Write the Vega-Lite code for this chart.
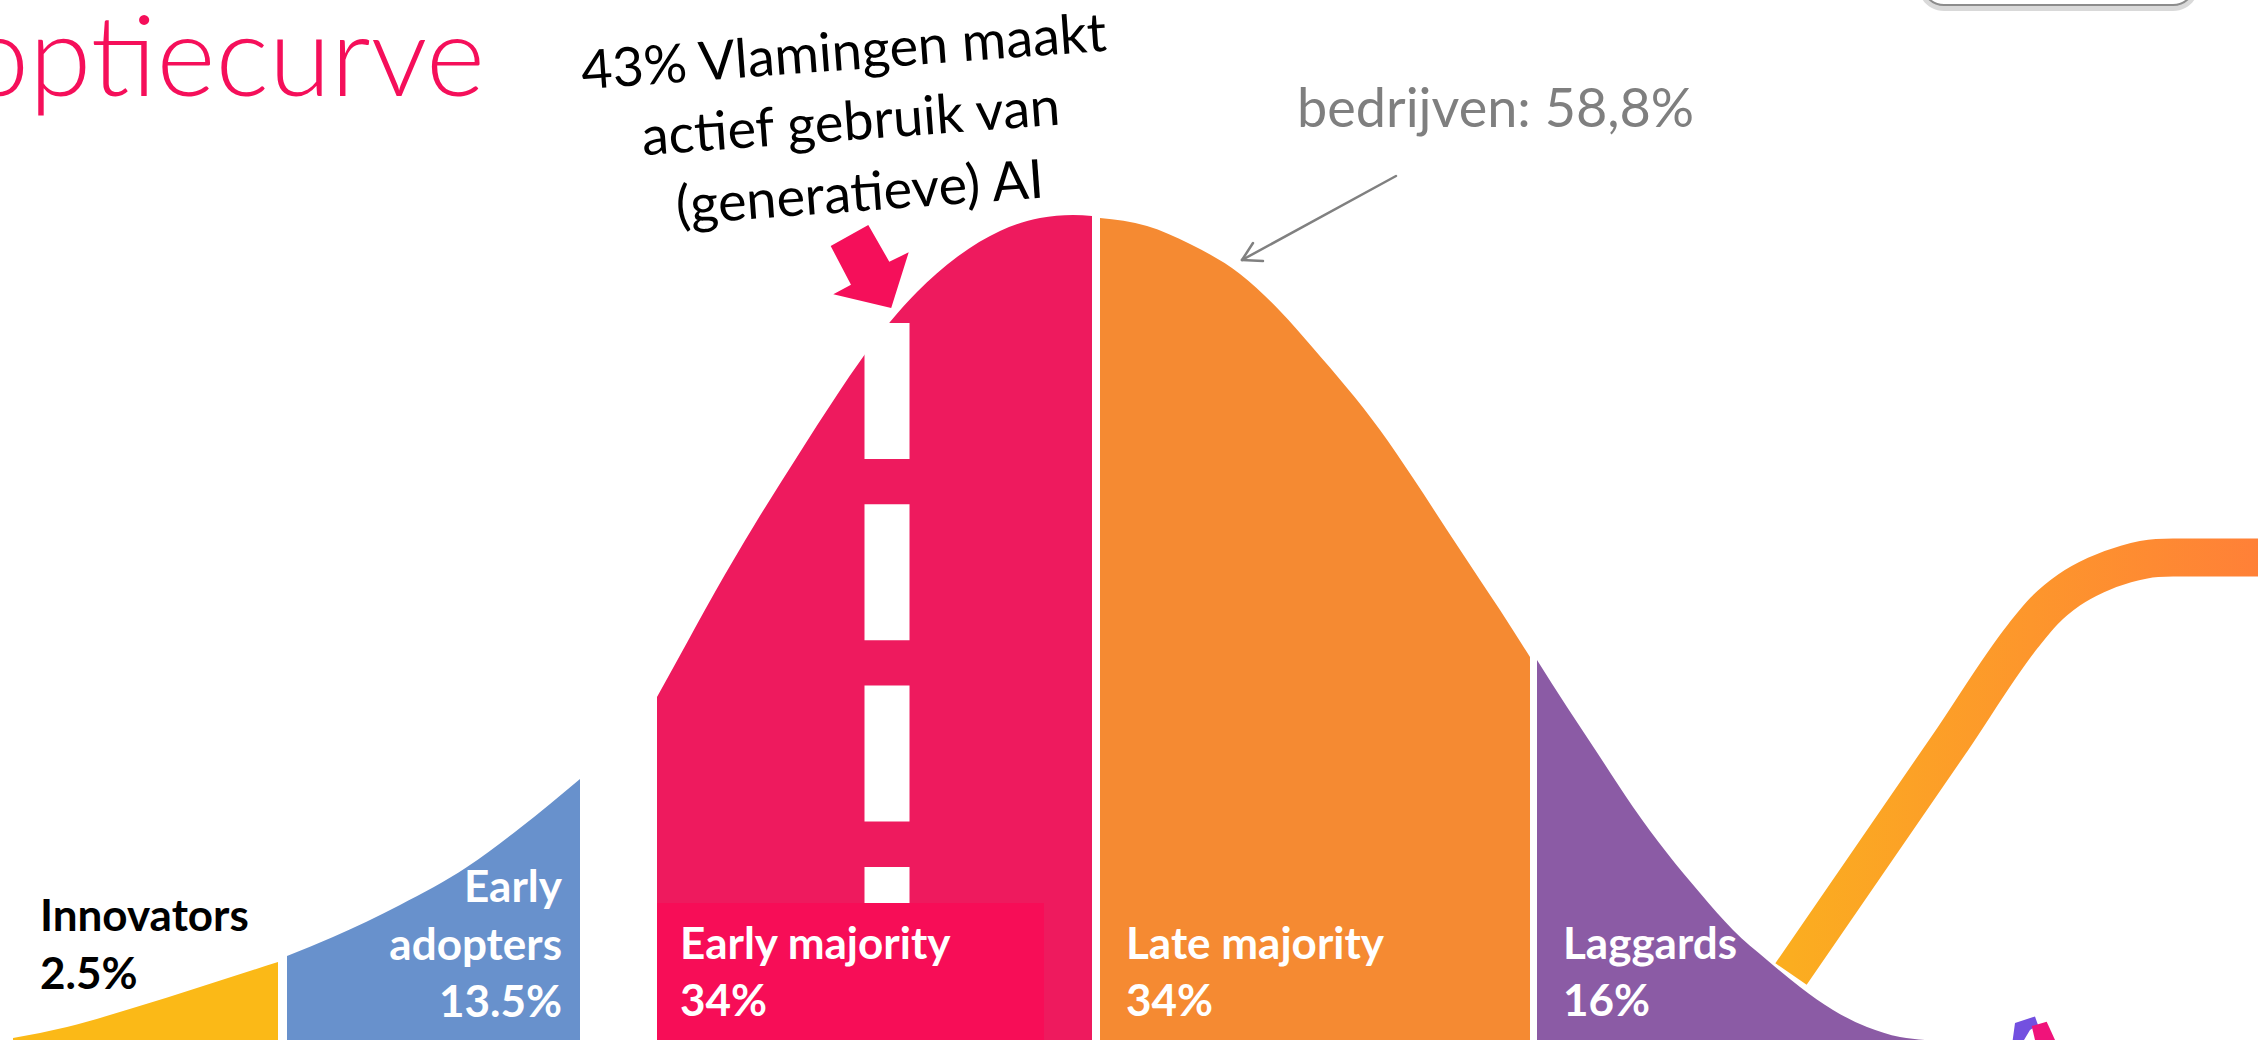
{
  "$schema": "https://vega.github.io/schema/vega-lite/v6.json",
  "width": 2258,
  "height": 1040,
  "autosize": {"type": "none"},
  "padding": 0,
  "background": "white",
  "config": {"view": {"stroke": null}},
  "datasets": {
    "curve": [
      {"segment": "Innovators", "x": 13, "h": 2},
      {"segment": "Innovators", "x": 67, "h": 13},
      {"segment": "Innovators", "x": 133, "h": 32},
      {"segment": "Innovators", "x": 200, "h": 53},
      {"segment": "Innovators", "x": 278, "h": 78},
      {"segment": "Early adopters", "x": 287, "h": 84},
      {"segment": "Early adopters", "x": 333, "h": 103},
      {"segment": "Early adopters", "x": 400, "h": 135},
      {"segment": "Early adopters", "x": 467, "h": 173},
      {"segment": "Early adopters", "x": 520, "h": 212},
      {"segment": "Early adopters", "x": 580, "h": 261},
      {"segment": "Early majority", "x": 657, "h": 343},
      {"segment": "Early majority", "x": 678, "h": 381},
      {"segment": "Early majority", "x": 715, "h": 448},
      {"segment": "Early majority", "x": 755, "h": 516},
      {"segment": "Early majority", "x": 797, "h": 583},
      {"segment": "Early majority", "x": 837, "h": 645},
      {"segment": "Early majority", "x": 863, "h": 683},
      {"segment": "Early majority", "x": 890, "h": 718},
      {"segment": "Early majority", "x": 917, "h": 748},
      {"segment": "Early majority", "x": 957, "h": 783},
      {"segment": "Early majority", "x": 1000, "h": 809},
      {"segment": "Early majority", "x": 1040, "h": 822},
      {"segment": "Early majority", "x": 1073, "h": 825},
      {"segment": "Early majority", "x": 1092, "h": 824},
      {"segment": "Late majority", "x": 1100, "h": 822},
      {"segment": "Late majority", "x": 1147, "h": 814},
      {"segment": "Late majority", "x": 1190, "h": 796},
      {"segment": "Late majority", "x": 1240, "h": 766},
      {"segment": "Late majority", "x": 1280, "h": 729},
      {"segment": "Late majority", "x": 1313, "h": 692},
      {"segment": "Late majority", "x": 1380, "h": 610},
      {"segment": "Late majority", "x": 1413, "h": 562},
      {"segment": "Late majority", "x": 1447, "h": 510},
      {"segment": "Late majority", "x": 1480, "h": 460},
      {"segment": "Late majority", "x": 1500, "h": 430},
      {"segment": "Late majority", "x": 1530, "h": 383},
      {"segment": "Laggards", "x": 1537, "h": 380},
      {"segment": "Laggards", "x": 1567, "h": 333},
      {"segment": "Laggards", "x": 1600, "h": 283},
      {"segment": "Laggards", "x": 1633, "h": 233},
      {"segment": "Laggards", "x": 1667, "h": 187},
      {"segment": "Laggards", "x": 1700, "h": 147},
      {"segment": "Laggards", "x": 1733, "h": 110},
      {"segment": "Laggards", "x": 1767, "h": 80},
      {"segment": "Laggards", "x": 1800, "h": 53},
      {"segment": "Laggards", "x": 1833, "h": 30},
      {"segment": "Laggards", "x": 1867, "h": 13},
      {"segment": "Laggards", "x": 1900, "h": 3},
      {"segment": "Laggards", "x": 1925, "h": 0}
    ],
    "dash": [{"x": 887, "top": 717, "bottom": 0}],
    "box": [{"x": 657, "x2": 1044, "top": 137, "bottom": 0}],
    "sline": [
      {"x": 1791, "h": 66},
      {"x": 1950, "h": 297},
      {"x": 2023, "h": 404},
      {"x": 2044, "h": 429},
      {"x": 2069, "h": 450},
      {"x": 2096, "h": 465},
      {"x": 2126, "h": 476},
      {"x": 2157, "h": 482},
      {"x": 2173, "h": 482.5},
      {"x": 2270, "h": 482.5}
    ],
    "pinkarrow": [{"x": 869.7, "h": 773.5}],
    "grayarrow": [
      {"x": 1396, "h": 864, "x2": 1242, "h2": 780},
      {"x": 1242, "h": 780, "x2": 1253, "h2": 797},
      {"x": 1242, "h": 780, "x2": 1263, "h2": 779}
    ],
    "blackLabels": [
      {"label": "Innovators", "x": 40, "h": 109},
      {"label": "2.5%", "x": 40, "h": 51}
    ],
    "whiteRight": [
      {"label": "Early", "x": 562, "h": 138},
      {"label": "adopters", "x": 562, "h": 80},
      {"label": "13.5%", "x": 562, "h": 23}
    ],
    "whiteLeft": [
      {"label": "Early majority", "x": 680, "h": 81},
      {"label": "34%", "x": 680, "h": 24},
      {"label": "Late majority", "x": 1126, "h": 81},
      {"label": "34%", "x": 1126, "h": 24},
      {"label": "Laggards", "x": 1563, "h": 81},
      {"label": "16%", "x": 1563, "h": 24}
    ],
    "annot": [
      {"label": "43% Vlamingen maakt", "x": 845, "h": 970},
      {"label": "actief gebruik van", "x": 852, "h": 900},
      {"label": "(generatieve) AI", "x": 861, "h": 829}
    ],
    "grayText": [{"label": "bedrijven: 58,8%", "x": 1297, "h": 913}],
    "title": [{"label": "Adoptiecurve", "x": 485, "h": 944}],
    "button": [{"x": 1922, "x2": 2195, "top": 1120, "bottom": 1035}],
    "buttonShadow": [{"x": 1918, "x2": 2199, "top": 1120, "bottom": 1029}],
    "logoA": [{"x": 2025, "h": 10}],
    "logoB": [{"x": 2043, "h": 10}]
  },
  "layer": [
    {
      "data": {"name": "curve"},
      "mark": {"type": "area", "interpolate": "monotone"},
      "encoding": {
        "x": {"field": "x", "type": "quantitative", "scale": {"domain": [0, 2258], "nice": false}, "axis": null},
        "y": {"field": "h", "type": "quantitative", "scale": {"domain": [0, 1040], "nice": false}, "axis": null, "stack": null},
        "color": {
          "field": "segment", "type": "nominal", "legend": null,
          "scale": {
            "domain": ["Innovators", "Early adopters", "Early majority", "Late majority", "Laggards"],
            "range": ["#FBB917", "#6891CC", "#EE1A5E", "#F58A32", "#8B5BA5"]
          }
        }
      }
    },
    {
      "data": {"name": "dash"},
      "mark": {"type": "rule", "color": "white", "strokeWidth": 45, "strokeDash": [136, 45.3], "strokeCap": "butt"},
      "encoding": {
        "x": {"field": "x", "type": "quantitative"},
        "y": {"field": "top", "type": "quantitative"},
        "y2": {"field": "bottom"}
      }
    },
    {
      "data": {"name": "box"},
      "mark": {"type": "rect", "color": "#F70D57"},
      "encoding": {
        "x": {"field": "x", "type": "quantitative"},
        "x2": {"field": "x2"},
        "y": {"field": "top", "type": "quantitative"},
        "y2": {"field": "bottom"}
      }
    },
    {
      "data": {"name": "sline"},
      "mark": {
        "type": "line", "interpolate": "monotone", "strokeWidth": 38, "strokeCap": "butt", "strokeJoin": "round", "clip": true,
        "stroke": {"gradient": "linear", "x1": 0, "y1": 0, "x2": 1, "y2": 0,
          "stops": [{"offset": 0, "color": "#FBAD20"}, {"offset": 1, "color": "#FF7F38"}]}
      },
      "encoding": {
        "x": {"field": "x", "type": "quantitative"},
        "y": {"field": "h", "type": "quantitative"}
      }
    },
    {
      "data": {"name": "pinkarrow"},
      "mark": {"type": "point", "filled": true, "opacity": 1, "color": "#F50F5A", "size": 6889,
        "shape": "M-0.940,-0.494L-0.034,-1L0.472,-0.116L0.940,-0.342L0.518,1L-0.877,0.670L-0.451,0.441Z"},
      "encoding": {
        "x": {"field": "x", "type": "quantitative"},
        "y": {"field": "h", "type": "quantitative"}
      }
    },
    {
      "data": {"name": "grayarrow"},
      "mark": {"type": "rule", "color": "#808080", "strokeWidth": 2.5, "strokeCap": "round"},
      "encoding": {
        "x": {"field": "x", "type": "quantitative"},
        "y": {"field": "h", "type": "quantitative"},
        "x2": {"field": "x2"},
        "y2": {"field": "h2"}
      }
    },
    {
      "data": {"name": "blackLabels"},
      "mark": {"type": "text", "align": "left", "baseline": "alphabetic", "font": "Lato", "fontSize": 44, "fontWeight": "bold", "color": "#000000"},
      "encoding": {
        "x": {"field": "x", "type": "quantitative"},
        "y": {"field": "h", "type": "quantitative"},
        "text": {"field": "label"}
      }
    },
    {
      "data": {"name": "whiteRight"},
      "mark": {"type": "text", "align": "right", "baseline": "alphabetic", "font": "Lato", "fontSize": 44, "fontWeight": "bold", "color": "#FFFFFF"},
      "encoding": {
        "x": {"field": "x", "type": "quantitative"},
        "y": {"field": "h", "type": "quantitative"},
        "text": {"field": "label"}
      }
    },
    {
      "data": {"name": "whiteLeft"},
      "mark": {"type": "text", "align": "left", "baseline": "alphabetic", "font": "Lato", "fontSize": 44, "fontWeight": "bold", "color": "#FFFFFF"},
      "encoding": {
        "x": {"field": "x", "type": "quantitative"},
        "y": {"field": "h", "type": "quantitative"},
        "text": {"field": "label"}
      }
    },
    {
      "data": {"name": "annot"},
      "mark": {"type": "text", "align": "center", "baseline": "alphabetic", "font": "Lato", "fontSize": 54, "angle": 355.8, "color": "#000000"},
      "encoding": {
        "x": {"field": "x", "type": "quantitative"},
        "y": {"field": "h", "type": "quantitative"},
        "text": {"field": "label"}
      }
    },
    {
      "data": {"name": "grayText"},
      "mark": {"type": "text", "align": "left", "baseline": "alphabetic", "font": "Lato", "fontSize": 54, "color": "#7F7F7F"},
      "encoding": {
        "x": {"field": "x", "type": "quantitative"},
        "y": {"field": "h", "type": "quantitative"},
        "text": {"field": "label"}
      }
    },
    {
      "data": {"name": "title"},
      "mark": {"type": "text", "align": "right", "baseline": "alphabetic", "font": "Lato", "fontSize": 113, "fontWeight": 300, "color": "#F50F5A", "clip": true},
      "encoding": {
        "x": {"field": "x", "type": "quantitative"},
        "y": {"field": "h", "type": "quantitative"},
        "text": {"field": "label"}
      }
    },
    {
      "data": {"name": "buttonShadow"},
      "mark": {"type": "rect", "color": "#D9D9D9", "cornerRadius": 26, "clip": true},
      "encoding": {
        "x": {"field": "x", "type": "quantitative"},
        "x2": {"field": "x2"},
        "y": {"field": "top", "type": "quantitative"},
        "y2": {"field": "bottom"}
      }
    },
    {
      "data": {"name": "button"},
      "mark": {"type": "rect", "fill": "#FFFFFF", "stroke": "#8C8C8C", "strokeWidth": 2, "cornerRadius": 22, "clip": true},
      "encoding": {
        "x": {"field": "x", "type": "quantitative"},
        "x2": {"field": "x2"},
        "y": {"field": "top", "type": "quantitative"},
        "y2": {"field": "bottom"}
      }
    },
    {
      "data": {"name": "logoA"},
      "mark": {"type": "point", "filled": true, "opacity": 1, "color": "#7350E0", "size": 784, "clip": true,
        "shape": "M-0.714,-0.5L0.714,-0.964L0.929,-0.357L0.357,0L-0.071,0.714L-0.879,0.714Z"},
      "encoding": {
        "x": {"field": "x", "type": "quantitative"},
        "y": {"field": "h", "type": "quantitative"}
      }
    },
    {
      "data": {"name": "logoB"},
      "mark": {"type": "point", "filled": true, "opacity": 1, "color": "#F0137A", "size": 784, "clip": true,
        "shape": "M-0.807,-0.286L0.264,-0.593L0.857,0.714L-0.571,0.714Z"},
      "encoding": {
        "x": {"field": "x", "type": "quantitative"},
        "y": {"field": "h", "type": "quantitative"}
      }
    }
  ]
}
